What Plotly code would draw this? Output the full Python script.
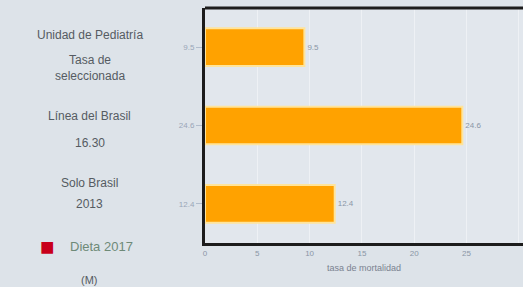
import plotly.graph_objects as go

categories = ["Unidad de Pediatría", "Línea del Brasil", "Solo Brasil"]
subtitles = ["Tasa de<br>seleccionada", "16.30", "2013"]
values = [9.5, 24.6, 12.4]
value_labels = ["9.5", "24.6", "12.4"]
legend_name = "Dieta 2017"
legend_sub = "(M)"
x_title = "tasa de mortalidad"
x_ticks = [0, 5, 10, 15, 20, 25, 30]

fig = go.Figure()
fig.add_trace(go.Bar(
    y=categories, x=values, orientation="h", width=0.48,
    marker=dict(color="#ffa200", line=dict(color="#ffe49a", width=2)),
    text=value_labels, textposition="outside",
    textfont=dict(size=8, color="#8a96a6"), cliponaxis=False,
    showlegend=False, hoverinfo="skip",
))

ann = []
shifts_main = [12, 10, 21]
shifts_sub = [-21, -17, 0]
for c, s, a, b in zip(categories, subtitles, shifts_main, shifts_sub):
    ann.append(dict(xref="paper", yref="y", x=-0.362, y=c, text=c, showarrow=False,
                    xanchor="center", yanchor="middle", yshift=a,
                    font=dict(size=12, color="#555b62")))
    ann.append(dict(xref="paper", yref="y", x=-0.362, y=c, text=s, showarrow=False,
                    xanchor="center", yanchor="middle", yshift=b,
                    font=dict(size=12, color="#555b62")))
ann.append(dict(xref="paper", yref="paper", x=-0.494, y=-0.013, showarrow=False,
                xanchor="center", yanchor="middle", text="■",
                font=dict(size=24, color="#c8001a")))
ann.append(dict(xref="paper", yref="paper", x=-0.43, y=-0.013, showarrow=False,
                xanchor="left", yanchor="middle", text=legend_name,
                font=dict(size=13, color="#6e8a78")))
ann.append(dict(xref="paper", yref="paper", x=-0.362, y=-0.157, showarrow=False,
                xanchor="center", yanchor="middle", text=legend_sub,
                font=dict(size=11, color="#555b62")))
ann.append(dict(xref="paper", yref="paper", x=0.5, y=-0.077, showarrow=False,
                xanchor="center", yanchor="top", text=x_title,
                font=dict(size=9, color="#7a8290")))

fig.update_layout(
    width=523, height=287,
    margin=dict(l=205, r=0, t=8, b=44),
    paper_bgcolor="#dde3e9", plot_bgcolor="#e2e7ed",
    font=dict(family="Liberation Sans, Arial, sans-serif"),
    annotations=ann, bargap=0.5, hovermode=False,
    shapes=[dict(type="line", xref="paper", yref="paper", x0=0, x1=1, y0=1, y1=1,
                 line=dict(color="#1c1c1c", width=3))],
)
fig.update_xaxes(range=[0, 30.4], tickvals=x_ticks, ticktext=[str(t) for t in x_ticks],
                 tickfont=dict(size=8, color="#8a96a6"), showgrid=True,
                 gridcolor="#eef1f5", gridwidth=1, zeroline=False,
                 showline=True, linecolor="#1c1c1c", linewidth=3, mirror=False,
                 ticks="", fixedrange=True)
fig.update_yaxes(autorange="reversed", tickvals=categories, ticktext=value_labels,
                 tickfont=dict(size=8, color="#9aa6b8"), showgrid=False,
                 showline=True, linecolor="#1c1c1c", linewidth=3, mirror=False,
                 ticks="outside", ticklen=6, tickcolor="#b0bccc", fixedrange=True)

fig.write_html(
    "out.html",
    config={"displayModeBar": False, "staticPlot": True},
    post_script="document.body.style.margin='0';"
                "document.documentElement.style.overflow='hidden';"
                "document.body.style.overflow='hidden';"
                "document.body.style.background='#dde3e9';",
)
